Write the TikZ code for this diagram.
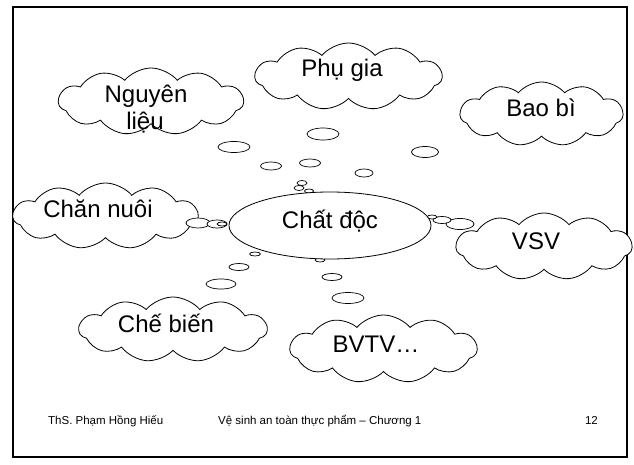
\documentclass[tikz,border=0pt]{standalone}
\usepackage{fontspec}
\setmainfont{Liberation Sans}
\usetikzlibrary{shapes.symbols,shapes.geometric}

\begin{document}
\begin{tikzpicture}[
    x=1pt, y=-1pt,
    cloudshape/.style={cloud, cloud puffs=11, cloud puff arc=100, cloud ignores aspect, draw=black, line width=0.8pt, fill=white, inner sep=0pt},
    centershape/.style={ellipse, draw=black, line width=0.8pt, fill=white, inner sep=0pt, minimum width=202pt, minimum height=67pt},
    bubble/.style={draw=black, line width=0.7pt, fill=white},
    cloudtext/.style={anchor=base, inner sep=0pt, font=\fontsize{24}{27}\selectfont},
    footer/.style={anchor=base west, inner sep=0pt, font=\fontsize{11.5}{14}\selectfont}
]

% Slide frame
\useasboundingbox (0,0) rectangle (634,465);
\draw[line width=1.6pt] (13,7) rectangle (627,457);

% ==================== CLOUDS ====================
\node[cloudshape, minimum width=185pt, minimum height=67pt] (nguyenlieu) at (151,101.5) {};
\node[cloudshape, minimum width=187pt, minimum height=67pt] (phugia) at (348.5,76.5) {};
\node[cloudshape, minimum width=163pt, minimum height=64pt] (baobi) at (541.5,114) {};
\node[cloudshape, minimum width=185pt, minimum height=66pt] (channuoi) at (105.5,216) {};
\node[cloudshape, minimum width=176pt, minimum height=67pt] (vsv) at (544,246.5) {};
\node[cloudshape, minimum width=188pt, minimum height=65pt] (chebien) at (173,329.5) {};
\node[cloudshape, minimum width=187pt, minimum height=68pt] (bvtv) at (383.5,349) {};

% ==================== BUBBLES ====================
\foreach \bx/\by/\ba/\bb in {
    323/134/16/6, 234/147/16/5.5, 425/152/13.5/5.5,
    271/166/10.5/4, 310/163/10.5/4, 364/173/9/4,
    302/183/5/2.5, 299/188/5/2.5, 309/191/4.5/2,
    198/223/12/5, 217/224/10/4, 222/224/5/2,
    460/224/14/5.5, 442/220/9/3.5, 432/217/5/2,
    221/284/15/5, 239/267/10/3.5, 255/254/5.5/2,
    348/298/16/5.5, 332/277/10/3.5, 320/260/5/2}
    \draw[bubble] (\bx,\by) ellipse ({\ba pt} and {\bb pt});

% Central node
\node[centershape] (chatdoc) at (330,225.5) {};

% ==================== TEXTS ====================
\node[cloudtext] at (146,103) {Nguyên};
\node[cloudtext] at (145,130) {liệu};
\node[cloudtext] at (342,77) {Phụ gia};
\node[cloudtext] at (541,117) {Bao bì};
\node[cloudtext] at (98,217) {Chăn nuôi};
\node[cloudtext] at (536,249) {VSV};
\node[cloudtext] at (166,332) {Chế biến};
\node[cloudtext] at (376,352) {BVTV…};
\node[cloudtext] at (330,228) {Chất độc};

% Footer
\node[footer] (author) at (48,424) {ThS. Phạm Hồng Hiếu};
\node[footer] (course) at (218,424) {Vệ sinh an toàn thực phẩm – Chương 1};
\node[footer, anchor=base east] (pagenum) at (598,424) {12};

\end{tikzpicture}
\end{document}
